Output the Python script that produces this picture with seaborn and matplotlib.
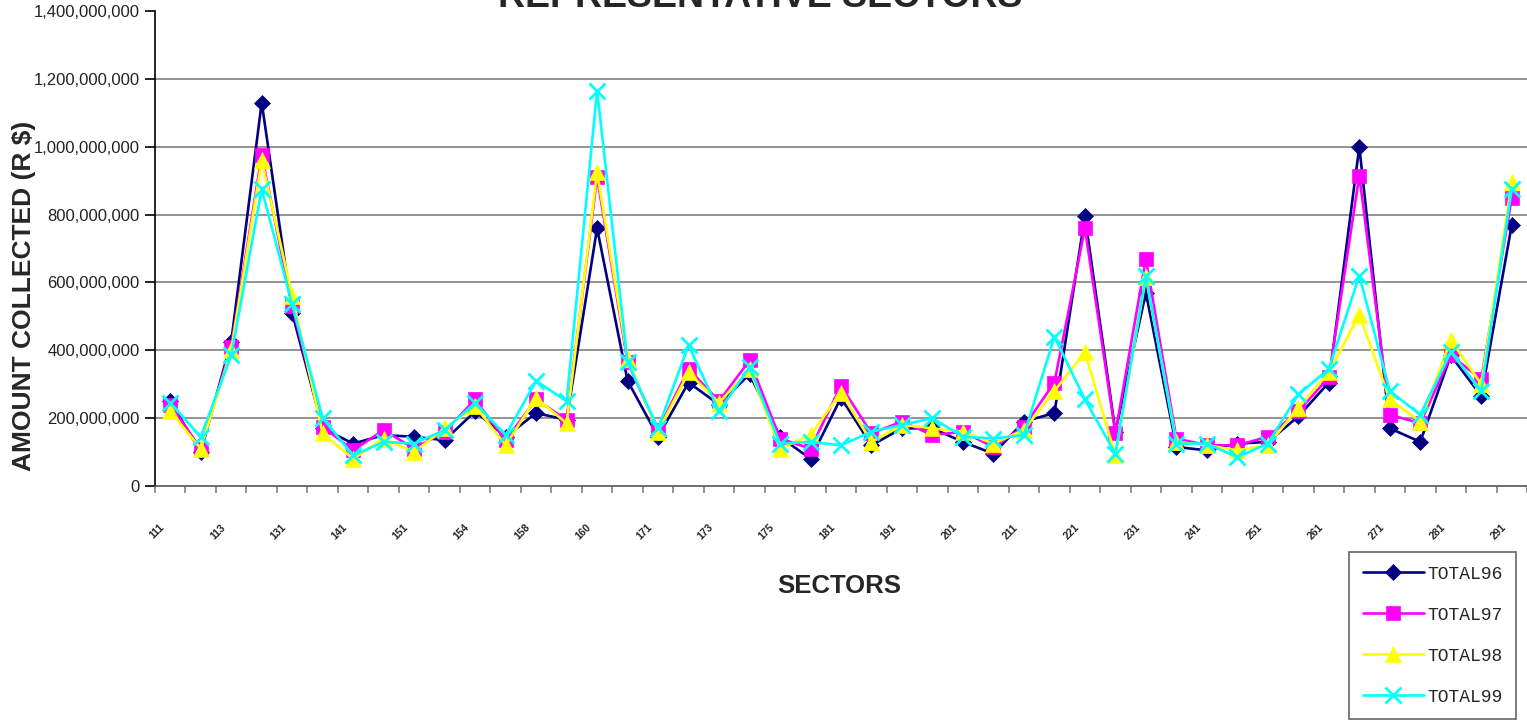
"""
Amount collected by representative sectors, 1996-1999
"""

import numpy as np
import pandas as pd
import matplotlib
matplotlib.use("Agg")
import matplotlib.pyplot as plt
import matplotlib.transforms as mtransforms
import seaborn as sns

# ==============================================================================
# values, in millions of R$
sectors = ["111", "112", "113", "121", "131", "132", "141", "142", "151", "152",
           "154", "155", "158", "159", "160", "161", "171", "172", "173", "174",
           "175", "177", "181", "182", "191", "192", "201", "202", "211", "212",
           "221", "222", "231", "232", "241", "242", "251", "252", "261", "262",
           "271", "272", "281", "282", "291"]

total96 = [250, 100, 425, 1130, 510, 170, 125, 150, 145, 135,
           220, 145, 215, 195, 760, 310, 145, 305, 240, 330,
           145, 80, 260, 120, 170, 170, 130, 95, 190, 215,
           795, 160, 570, 115, 105, 125, 130, 205, 305, 1000,
           170, 130, 385, 265, 770]
total97 = [240, 110, 410, 975, 530, 175, 105, 165, 110, 160,
           255, 135, 255, 195, 910, 365, 165, 345, 250, 370,
           140, 110, 295, 155, 190, 150, 160, 115, 175, 305,
           760, 155, 670, 140, 120, 120, 145, 220, 320, 915,
           210, 185, 385, 315, 850]
total98 = [220, 110, 400, 960, 560, 155, 80, 140, 100, 170,
           235, 120, 260, 185, 925, 375, 160, 335, 245, 345,
           110, 150, 275, 130, 180, 170, 160, 125, 165, 280,
           395, 90, 615, 130, 120, 105, 120, 230, 335, 505,
           255, 190, 430, 300, 895]
total99 = [245, 145, 385, 875, 535, 200, 90, 130, 125, 165,
           245, 150, 310, 250, 1165, 365, 170, 415, 220, 350,
           125, 130, 120, 160, 180, 200, 145, 140, 150, 440,
           255, 95, 620, 125, 125, 85, 125, 270, 345, 620,
           280, 210, 395, 280, 875]

series_names = ["TOTAL96", "TOTAL97", "TOTAL98", "TOTAL99"]
series_values = [total96, total97, total98, total99]

# ==============================================================================
colors = {"TOTAL96": "#000080", "TOTAL97": "#FF00FF",
          "TOTAL98": "#FFFF00", "TOTAL99": "#00FFFF"}
markers = {"TOTAL96": "D", "TOTAL97": "s", "TOTAL98": "^", "TOTAL99": "x"}
msizes = {"TOTAL96": 8, "TOTAL97": 10.5, "TOTAL98": 12, "TOTAL99": 11.5}

frames = []
for name, vals in zip(series_names, series_values):
    frames.append(pd.DataFrame({"pos": np.arange(len(sectors)),
                                "sector": sectors,
                                "amount": np.array(vals) * 1e6,
                                "series": name}))
df = pd.concat(frames, ignore_index=True)

sns.set_style("white")
plt.rcParams["font.family"] = ["Liberation Sans", "DejaVu Sans"]

W, H = 1527, 721
fig = plt.figure(figsize=(W / 100, H / 100), dpi=100)
ax = fig.add_axes([155 / W, 1 - 486 / H, (W - 155) / W, 475 / H])

for i, name in enumerate(series_names):
    sns.lineplot(data=df[df["series"] == name], x="pos", y="amount",
                 color=colors[name], marker=markers[name],
                 markersize=msizes[name], markeredgecolor=colors[name],
                 markerfacecolor=colors[name],
                 markeredgewidth=2.0 if name == "TOTAL99" else 0.5,
                 linewidth=1.9, label=name, ax=ax, zorder=3 + i)

# ========== axes ==========
ax.set_xlim(-0.5, len(sectors) - 0.5)
ax.set_ylim(0, 1.4e9)
ax.set_yticks(np.arange(0, 1.4e9 + 1, 2e8))
ax.set_yticklabels([f"{v:,.0f}" for v in np.arange(0, 1.4e9 + 1, 2e8)],
                   fontsize=12, color="#222222")
ax.yaxis.grid(True, color="#808080", linewidth=1.2)
ax.get_ygridlines()[-1].set_visible(False)
ax.get_ygridlines()[0].set_visible(False)
ax.tick_params(axis="y", direction="out", length=7, width=1.2, color="black",
               pad=4, left=True)

ax.set_xticks(np.arange(-0.5, len(sectors), 1))
ax.set_xticklabels([])
ax.tick_params(axis="x", which="major", direction="out", length=5, width=1.2,
               color="#808080", bottom=True)
ax.set_xticks(np.arange(0, len(sectors), 2), sectors[::2], minor=True)
ax.tick_params(axis="x", which="minor", length=0, pad=26, labelsize=7.5)
offset = mtransforms.ScaledTranslation(-11 / 100, 0, fig.dpi_scale_trans)
for lab in ax.get_xticklabels(minor=True):
    lab.set_rotation(45)
    lab.set_ha("right")
    lab.set_va("top")
    lab.set_rotation_mode("anchor")
    lab.set_fontweight("bold")
    lab.set_transform(lab.get_transform() + offset)

for side in ["top", "right"]:
    ax.spines[side].set_visible(False)
ax.spines["left"].set_color("black")
ax.spines["left"].set_linewidth(1.2)
ax.spines["bottom"].set_color("#555555")
ax.spines["bottom"].set_linewidth(1.2)

ax.set_xlabel("SECTORS", fontsize=18.5, fontweight="bold")
ax.xaxis.set_label_coords(0.499, -0.185)
ax.set_ylabel("AMOUNT COLLECTED (R $)", fontsize=19, fontweight="bold")
ax.yaxis.set_label_coords(-0.087, 0.4)

fig.text(0.498, 1 - 7 / H, "REPRESENTATIVE SECTORS", ha="center",
         va="baseline", fontsize=27, fontweight="bold")

# ========== legend ==========
handles, labels = ax.get_legend_handles_labels()
if ax.legend_:
    ax.legend_.remove()
leg = fig.legend(handles, labels, loc="upper left",
                 bbox_to_anchor=(1349 / W, 1 - 552 / H),
                 prop={"family": "Liberation Mono", "size": 13},
                 frameon=True, fancybox=False, edgecolor="#404040",
                 handlelength=3.4, labelspacing=1.33, borderpad=0.75,
                 handletextpad=0.2, borderaxespad=0)
leg.get_frame().set_linewidth(1.2)

fig.savefig("out.png", dpi=100)
